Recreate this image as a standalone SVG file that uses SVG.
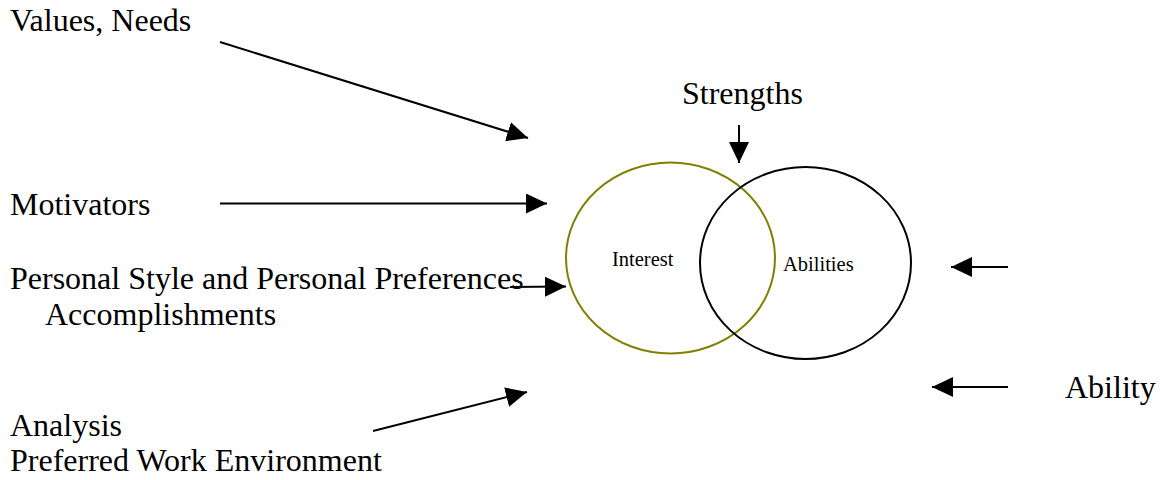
<svg xmlns="http://www.w3.org/2000/svg" width="1162" height="480" viewBox="0 0 1162 480">
<style>
.t{font-family:"Liberation Serif","Times New Roman",serif;font-size:32px;fill:#000}
.s{font-family:"Liberation Serif","Times New Roman",serif;font-size:20.5px;fill:#000}
.c{stroke:#000;stroke-width:2;fill:none}
</style>
<defs>
<marker id="ah" markerUnits="userSpaceOnUse" markerWidth="22" markerHeight="20" refX="21" refY="10" orient="auto">
<path d="M0,0 L21,10 L0,20 z" fill="#000"/>
</marker>
</defs>
<rect width="1162" height="480" fill="#fff"/>
<g id="interest">
<ellipse cx="670.5" cy="258" rx="104.5" ry="95.5" fill="none" stroke="#808000" stroke-width="2"/>
<text class="s" x="612" y="266">Interest</text>
</g>
<g id="abilities">
<ellipse cx="805.5" cy="263" rx="105.5" ry="96" fill="none" stroke="#000" stroke-width="2"/>
<text class="s" x="783" y="271">Abilities</text>
</g>
<g id="values"><text class="t" x="10" y="31">Values, Needs</text></g>
<g id="motivators"><text class="t" x="10" y="215">Motivators</text></g>
<g id="personal"><text class="t" x="10" y="289">Personal Style and Personal Preferences</text></g>
<g id="accomplishments"><text class="t" x="45" y="325">Accomplishments</text></g>
<g id="analysis"><text class="t" x="10" y="436">Analysis</text></g>
<g id="environment"><text class="t" x="10" y="471">Preferred Work Environment</text></g>
<g id="strengths"><text class="t" x="682" y="104">Strengths</text></g>
<g id="ability"><text class="t" x="1065" y="398">Ability</text></g>
<g id="connectors">
<line class="c" x1="220" y1="42" x2="528" y2="138" marker-end="url(#ah)"/>
<line class="c" x1="220" y1="203.5" x2="547" y2="203.5" marker-end="url(#ah)"/>
<line class="c" x1="510" y1="287" x2="566" y2="286.5" marker-end="url(#ah)"/>
<line class="c" x1="373" y1="431" x2="527" y2="392" marker-end="url(#ah)"/>
<line class="c" x1="739" y1="125" x2="739" y2="163" marker-end="url(#ah)"/>
<line class="c" x1="1008" y1="267" x2="951" y2="267" marker-end="url(#ah)"/>
<line class="c" x1="1008" y1="387" x2="932" y2="387" marker-end="url(#ah)"/>
</g>
</svg>
